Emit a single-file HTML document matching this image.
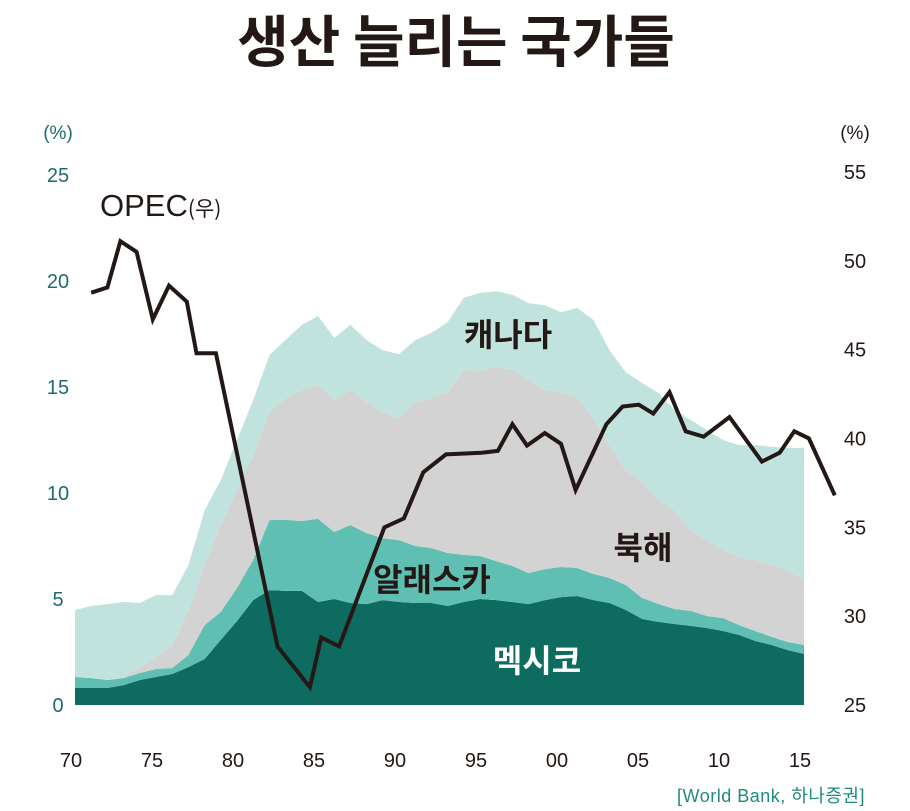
<!DOCTYPE html>
<html><head><meta charset="utf-8">
<style>
html,body{margin:0;padding:0;background:#fff;}
svg{display:block;font-family:"Liberation Sans","Noto Sans CJK KR",sans-serif;}
</style></head>
<body>
<svg id="chart" width="910" height="811" viewBox="0 0 910 811">
<text x="456" y="62" text-anchor="middle" font-size="56" font-weight="bold" fill="#231815" font-family="'Noto Sans CJK KR',sans-serif">생산 늘리는 국가들</text>
<g id="areas"></g>
<g id="lineg"></g>
<g id="axes"></g>
<text x="58" y="139" text-anchor="middle" font-size="19" fill="#1f6b70">(%)</text>
<text x="855" y="139" text-anchor="middle" font-size="19" fill="#231815">(%)</text>
<text x="100" y="216" font-size="31" fill="#231815">OPEC<tspan font-size="21" font-family="'Noto Sans CJK KR',sans-serif">(우)</tspan></text>
<text x="508" y="346" text-anchor="middle" font-size="32" font-weight="bold" fill="#231815" font-family="'Noto Sans CJK KR',sans-serif">캐나다</text>
<text x="643" y="559" text-anchor="middle" font-size="32" font-weight="bold" fill="#231815" font-family="'Noto Sans CJK KR',sans-serif">북해</text>
<text x="432" y="591" text-anchor="middle" font-size="32" font-weight="bold" fill="#231815" font-family="'Noto Sans CJK KR',sans-serif">알래스카</text>
<text x="537" y="672" text-anchor="middle" font-size="32" font-weight="bold" fill="#ffffff" font-family="'Noto Sans CJK KR',sans-serif">멕시코</text>
<text x="865" y="802" text-anchor="end" font-size="18" letter-spacing="0.5" fill="#1f8a80" font-family="'Liberation Sans','Noto Sans CJK KR',sans-serif">[World Bank, 하나증권]</text>
</svg>
<script>
const years = [];
for (let y = 1970; y <= 2015; y++) years.push(y);
const mexico = [0.80,0.80,0.80,0.94,1.18,1.32,1.46,1.79,2.17,3.07,3.96,4.95,5.42,5.38,5.38,4.86,5.0,4.81,4.76,4.95,4.86,4.81,4.81,4.67,4.86,5.0,4.95,4.86,4.76,4.95,5.09,5.14,4.95,4.81,4.48,4.06,3.92,3.82,3.73,3.63,3.49,3.30,3.02,2.83,2.59,2.41];
const alaska = [0.52,0.47,0.38,0.33,0.33,0.38,0.28,0.57,1.6,1.32,1.56,1.89,3.30,3.35,3.30,3.92,3.16,3.68,3.35,2.92,2.92,2.69,2.59,2.5,2.22,2.03,1.84,1.70,1.46,1.46,1.42,1.32,1.23,1.18,1.18,0.99,0.85,0.71,0.71,0.57,0.61,0.47,0.47,0.38,0.38,0.42];
const northSea = [0,0,0,0.05,0.28,0.52,1.08,2.12,2.83,4.1,4.62,4.95,5.09,5.75,6.18,6.32,6.23,6.37,6.18,5.94,5.75,6.79,7.08,7.59,8.73,8.73,9.15,9.25,9.10,8.44,8.25,8.07,7.36,6.27,5.42,5.47,4.91,4.67,3.82,3.58,3.21,3.21,3.35,3.40,3.40,3.07];
const canada = [3.16,3.40,3.58,3.54,3.02,2.97,2.36,2.12,2.59,2.12,2.36,2.59,2.69,2.74,3.07,3.25,2.92,3.07,2.92,2.92,3.02,2.92,3.07,3.30,3.40,3.68,3.58,3.54,3.63,4.01,3.77,4.20,4.62,4.48,4.62,4.67,5.05,4.72,5.19,5.19,5.19,5.28,5.42,5.57,5.75,6.23];
const opecYears = [1971.0,1972.0,1972.8,1973.8,1974.8,1975.8,1976.9,1977.5,1978.7,1982.5,1984.5,1985.2,1986.3,1989.1,1990.3,1991.5,1992.9,1995.1,1996.1,1997.0,1997.9,1999.0,2000.0,2000.9,2002.8,2003.8,2004.8,2005.7,2006.7,2007.7,2008.8,2010.4,2012.4,2013.5,2014.4,2015.3,2016.9];
const opec = [48.2,48.5,51.1,50.5,46.7,48.6,47.7,44.8,44.8,28.3,26.0,28.8,28.3,35.0,35.5,38.1,39.1,39.2,39.3,40.8,39.6,40.3,39.7,37.1,40.8,41.8,41.9,41.4,42.6,40.4,40.1,41.2,38.7,39.2,40.4,40.0,36.8];
const leftTicks = [0,5,10,15,20,25];
const rightTicks = [25,30,35,40,45,50,55];
const xTickYears = [1970,1975,1980,1985,1990,1995,2000,2005,2010,2015];
const xTickLabels = ["70","75","80","85","90","95","00","05","10","15"];

const NS = "http://www.w3.org/2000/svg";
const xs = y => 75 + (y - 1970) * 16.2;
const yl = v => 705 - v * 21.2;
const yr = v => 705 - (v - 25) * 17.77;

const series = [
  {vals: mexico, color: "#0d6b60", name: "area-mexico"},
  {vals: alaska, color: "#5fbfb2", name: "area-alaska"},
  {vals: northSea, color: "#d3d3d3", name: "area-north-sea"},
  {vals: canada, color: "#c0e3dd", name: "area-canada"}
];
const areasG = document.getElementById("areas");
let base = years.map(() => 0);
series.forEach(s => {
  const top = base.map((b, i) => b + s.vals[i]);
  let d = "M" + years.map((y, i) => xs(y).toFixed(1) + "," + yl(top[i]).toFixed(1)).join("L");
  for (let i = years.length - 1; i >= 0; i--) d += "L" + xs(years[i]).toFixed(1) + "," + yl(base[i]).toFixed(1);
  d += "Z";
  const p = document.createElementNS(NS, "path");
  p.setAttribute("d", d);
  p.setAttribute("fill", s.color);
  
  
  areasG.appendChild(p);
  base = top;
});

const lineG = document.getElementById("lineg");
const lp = document.createElementNS(NS, "polyline");
lp.setAttribute("points", opecYears.map((y, i) => xs(y).toFixed(1) + "," + yr(opec[i]).toFixed(1)).join(" "));
lp.setAttribute("fill", "none");
lp.setAttribute("stroke", "#231815");
lp.setAttribute("stroke-width", "4");
lp.setAttribute("stroke-linejoin", "miter");


lineG.appendChild(lp);

const axesG = document.getElementById("axes");
leftTicks.forEach(v => {
  const t = document.createElementNS(NS, "text");
  t.setAttribute("x", 58); t.setAttribute("y", yl(v) + 7);
  t.setAttribute("text-anchor", "middle"); t.setAttribute("font-size", "20"); t.setAttribute("fill", "#1f6b70");
  t.textContent = v;
  
  
  axesG.appendChild(t);
});
rightTicks.forEach(v => {
  const t = document.createElementNS(NS, "text");
  t.setAttribute("x", 855); t.setAttribute("y", yr(v) + 7);
  t.setAttribute("text-anchor", "middle"); t.setAttribute("font-size", "20"); t.setAttribute("fill", "#231815");
  t.textContent = v;
  
  
  axesG.appendChild(t);
});
xTickYears.forEach((y, i) => {
  const t = document.createElementNS(NS, "text");
  t.setAttribute("x", xs(y) - 4); t.setAttribute("y", 767);
  t.setAttribute("text-anchor", "middle"); t.setAttribute("font-size", "20"); t.setAttribute("fill", "#231815");
  t.textContent = xTickLabels[i];
  
  
  axesG.appendChild(t);
});
</script>
</body></html>
